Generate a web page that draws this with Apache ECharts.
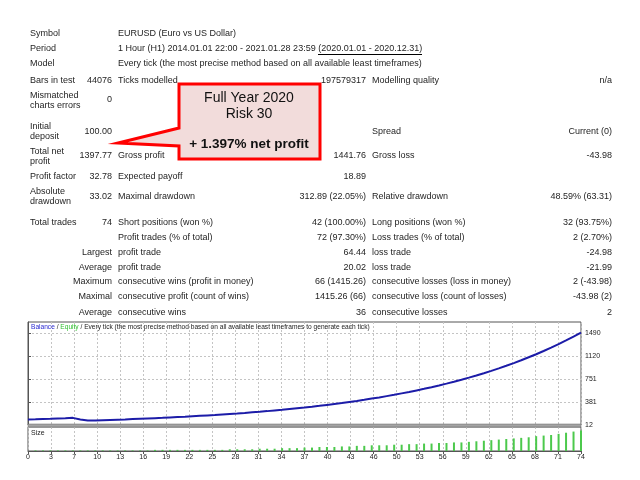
<!DOCTYPE html>
<html lang="en">
<head>
<meta charset="UTF-8">
<title>Strategy Tester Report</title>
<script src="https://cdn.jsdelivr.net/npm/echarts@6.0.0/dist/echarts.min.js"></script>
<style>
    * { margin: 0; padding: 0; }
    body { background: #fff; width: 640px; height: 480px; overflow: hidden; }
    #wrap { position: relative; width: 640px; height: 480px; }
    #main { position: absolute; left: 0; top: 0; width: 640px; height: 480px; }
    #report {
        position: absolute; left: 0; top: 0; width: 640px; height: 320px;
        font-family: "Liberation Sans", Arial, sans-serif; font-size: 9px; color: #1e1e1e;
    }
    #report div { position: absolute; white-space: nowrap; line-height: 12px; height: 12px; }
    #report .r { text-align: right; width: 200px; }
    #report u { text-decoration: none; border-bottom: 1px solid #000; padding-bottom: 1px; }
</style>
</head>
<body>
<div id="wrap">
    <div id="main"></div>
    <div id="report"></div>
</div>
<script>
    // x axis labels (trade number)
    var tradeLabels = ['0', '3', '7', '10', '13', '16', '19', '22', '25', '28', '31', '34', '37',
        '40', '43', '46', '50', '53', '56', '59', '62', '65', '68', '71', '74'];

    // balance after each trade, trade 0 = initial deposit
    var balance = [100, 104, 109, 113, 118, 122, 126.5, 101.5, 82.5, 86, 90, 94, 98, 102, 107, 112,
        117, 122, 127, 133, 139, 145, 152, 159, 166, 173, 181, 189, 197, 206, 216, 225, 235, 246,
        257, 269, 281, 293, 306, 320, 335, 350, 365, 382, 399, 417, 436, 455, 476, 497, 520, 543,
        568, 593, 620, 648, 677, 708, 740, 773, 808, 844, 882, 922, 964, 1007, 1052, 1100, 1149,
        1201, 1255, 1312, 1371, 1433, 1497.77];

    // lot size of trades 1..74
    var lotSize = [0.01, 0.01, 0.01, 0.01, 0.01, 0.01, 0.01, 0.01, 0.01, 0.01, 0.01, 0.01, 0.01, 0.01, 0.01, 0.01,
        0.02, 0.02, 0.02, 0.02, 0.02, 0.02, 0.02, 0.02, 0.02, 0.02,
        0.03, 0.03, 0.03, 0.03, 0.04, 0.04, 0.04, 0.05, 0.05, 0.05, 0.06, 0.06, 0.07, 0.07, 0.07,
        0.08, 0.08, 0.09, 0.09, 0.10, 0.10, 0.10, 0.11, 0.11, 0.12, 0.12, 0.13, 0.13, 0.14, 0.14, 0.15, 0.15,
        0.16, 0.17, 0.18, 0.19, 0.20, 0.21, 0.22, 0.23, 0.24, 0.26, 0.27, 0.28, 0.30, 0.32, 0.34, 0.36];

    // balance axis labels
    var yTicks = [12, 381, 751, 1120, 1490];

    // ---- report text ----
    var report = document.getElementById('report');
    function put(x, y, text, align) {
        var d = document.createElement('div');
        d.textContent = text;
        if (align === 'r') {
            d.className = 'r';
            d.style.left = (x - 200) + 'px';
        } else {
            d.style.left = x + 'px';
        }
        d.style.top = (y - 6) + 'px';
        report.appendChild(d);
        return d;
    }
    // columns: label 30, value right 112, label 118, value right 366, label 372, value right 612
    put(30, 33, 'Symbol'); put(118, 33, 'EURUSD (Euro vs US Dollar)');
    put(30, 48, 'Period');
    put(118, 48, '').innerHTML = '1 Hour (H1) 2014.01.01 22:00 - 2021.01.28 23:59 <u>(2020.01.01 - 2020.12.31)</u>';
    put(30, 63, 'Model'); put(118, 63, 'Every tick (the most precise method based on all available least timeframes)');

    put(30, 80, 'Bars in test'); put(112, 80, '44076', 'r'); put(118, 80, 'Ticks modelled');
    put(366, 80, '197579317', 'r'); put(372, 80, 'Modelling quality'); put(612, 80, 'n/a', 'r');

    put(30, 95, 'Mismatched'); put(30, 105, 'charts errors'); put(112, 99, '0', 'r');

    put(30, 126, 'Initial'); put(30, 136, 'deposit'); put(112, 131, '100.00', 'r');
    put(372, 131, 'Spread'); put(612, 131, 'Current (0)', 'r');

    put(30, 151, 'Total net'); put(30, 161, 'profit'); put(112, 155, '1397.77', 'r');
    put(118, 155, 'Gross profit'); put(366, 155, '1441.76', 'r'); put(372, 155, 'Gross loss'); put(612, 155, '-43.98', 'r');

    put(30, 176, 'Profit factor'); put(112, 176, '32.78', 'r'); put(118, 176, 'Expected payoff'); put(366, 176, '18.89', 'r');

    put(30, 191, 'Absolute'); put(30, 201, 'drawdown'); put(112, 196, '33.02', 'r');
    put(118, 196, 'Maximal drawdown'); put(366, 196, '312.89 (22.05%)', 'r');
    put(372, 196, 'Relative drawdown'); put(612, 196, '48.59% (63.31)', 'r');

    put(30, 222, 'Total trades'); put(112, 222, '74', 'r'); put(118, 222, 'Short positions (won %)');
    put(366, 222, '42 (100.00%)', 'r'); put(372, 222, 'Long positions (won %)'); put(612, 222, '32 (93.75%)', 'r');

    put(118, 237, 'Profit trades (% of total)'); put(366, 237, '72 (97.30%)', 'r');
    put(372, 237, 'Loss trades (% of total)'); put(612, 237, '2 (2.70%)', 'r');

    put(112, 252, 'Largest', 'r'); put(118, 252, 'profit trade'); put(366, 252, '64.44', 'r');
    put(372, 252, 'loss trade'); put(612, 252, '-24.98', 'r');

    put(112, 267, 'Average', 'r'); put(118, 267, 'profit trade'); put(366, 267, '20.02', 'r');
    put(372, 267, 'loss trade'); put(612, 267, '-21.99', 'r');

    put(112, 281, 'Maximum', 'r'); put(118, 281, 'consecutive wins (profit in money)'); put(366, 281, '66 (1415.26)', 'r');
    put(372, 281, 'consecutive losses (loss in money)'); put(612, 281, '2 (-43.98)', 'r');

    put(112, 296, 'Maximal', 'r'); put(118, 296, 'consecutive profit (count of wins)'); put(366, 296, '1415.26 (66)', 'r');
    put(372, 296, 'consecutive loss (count of losses)'); put(612, 296, '-43.98 (2)', 'r');

    put(112, 312, 'Average', 'r'); put(118, 312, 'consecutive wins'); put(366, 312, '36', 'r');
    put(372, 312, 'consecutive losses'); put(612, 312, '2', 'r');

    // ---- chart ----
    var chartDom = document.getElementById('main');
    var myChart = echarts.init(chartDom);
    var font = '"Liberation Sans", Arial, sans-serif';
    var gridLine = { show: true, lineStyle: { color: '#c4c4c4', type: [2, 2], width: 1 } };

    var option = {
        animation: false,
        backgroundColor: 'transparent',
        grid: [
            { left: 28, top: 322, width: 553, height: 103, show: true, borderColor: '#555', borderWidth: 1 },
            { left: 28, top: 427, width: 553, height: 24, show: true, borderColor: '#555', borderWidth: 1 }
        ],
        xAxis: [
            { gridIndex: 0, type: 'value', position: 'top', min: 0, max: 74, show: false },
            {
                gridIndex: 0, type: 'category', position: 'bottom', data: tradeLabels, boundaryGap: false,
                axisLine: { show: false }, axisTick: { show: false }, axisLabel: { show: false },
                splitLine: Object.assign({ interval: 0 }, gridLine)
            },
            { gridIndex: 1, type: 'value', position: 'top', min: 0, max: 74, show: false },
            {
                gridIndex: 1, type: 'category', position: 'bottom', data: tradeLabels, boundaryGap: false,
                axisLine: { show: true, lineStyle: { color: '#555' } },
                axisTick: { show: true, interval: 0, length: 3, lineStyle: { color: '#555' } },
                axisLabel: { interval: 0, fontSize: 7, color: '#222', margin: 3, fontFamily: font },
                splitLine: Object.assign({ interval: 0 }, gridLine)
            }
        ],
        yAxis: [
            {
                gridIndex: 0, type: 'value', position: 'right', min: 12, max: 1667,
                axisLine: { show: true, lineStyle: { color: '#555' } },
                axisTick: { show: true, length: 3, customValues: yTicks, lineStyle: { color: '#555' } },
                axisLabel: {
                    customValues: yTicks, fontSize: 7, color: '#222', margin: 4, fontFamily: font,
                    formatter: function (v) { return String(v); }
                },
                splitLine: Object.assign({ customValues: yTicks }, gridLine)
            },
            { gridIndex: 1, type: 'value', min: 0, max: 0.42, show: false }
        ],
        series: [
            {
                name: 'Balance',
                type: 'line',
                xAxisIndex: 0,
                yAxisIndex: 0,
                symbol: 'none',
                lineStyle: { color: '#1c1ca8', width: 2 },
                z: 3,
                data: balance.map(function (v, i) { return [i, v]; })
            },
            {
                name: 'Size',
                type: 'bar',
                xAxisIndex: 2,
                yAxisIndex: 1,
                barWidth: 2,
                itemStyle: { color: '#4cc94c' },
                data: lotSize.map(function (v, i) { return [i + 1, v]; })
            }
        ],
        graphic: [
            // separator between the two panels
            { type: 'rect', shape: { x: 28, y: 424, width: 553, height: 3 }, style: { fill: '#a4a4a4', stroke: '#666', lineWidth: 0.5 }, z: 10 },
            {
                type: 'text', x: 31, y: 324, z: 10,
                style: {
                    text: '{b|Balance} / {g|Equity} / Every tick (the most precise method based on all available least timeframes to generate each tick)',
                    font: '6.6px ' + font, fill: '#222',
                    rich: { b: { fill: '#2a2ad0', font: '6.6px ' + font }, g: { fill: '#2fbf2f', font: '6.6px ' + font } }
                }
            },
            { type: 'text', x: 31, y: 430, z: 10, style: { text: 'Size', font: '7px ' + font, fill: '#222' } },
            // callout
            {
                type: 'polygon', z: 20,
                shape: { points: [[179, 84], [320, 84], [320, 159], [179, 159], [179, 146], [118, 143], [179, 128]] },
                style: { fill: '#f2dcdb', stroke: '#ff0000', lineWidth: 3, lineJoin: 'miter' }
            },
            { type: 'text', x: 249, y: 98, z: 21, style: { text: 'Full Year 2020', font: '14px ' + font, fill: '#111', align: 'center', verticalAlign: 'middle' } },
            { type: 'text', x: 249, y: 114, z: 21, style: { text: 'Risk 30', font: '14px ' + font, fill: '#111', align: 'center', verticalAlign: 'middle' } },
            { type: 'text', x: 249, y: 144, z: 21, style: { text: '+ 1.397% net profit', font: 'bold 13.5px ' + font, fill: '#111', align: 'center', verticalAlign: 'middle' } }
        ]
    };

    option && myChart.setOption(option);
</script>
</body>
</html>
